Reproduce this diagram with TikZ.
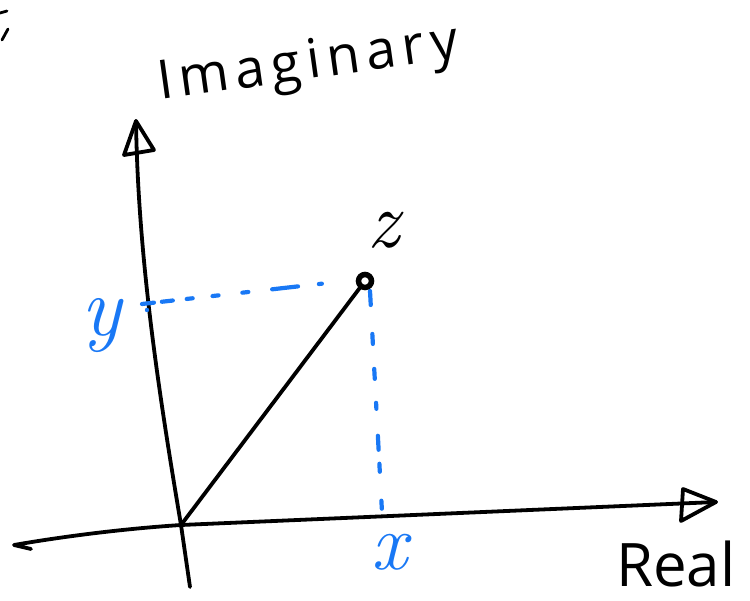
\documentclass[tikz,border=0pt]{standalone}
\usepackage{fontspec}
\setmainfont{Open Sans}
\newfontfamily\handspaced[LetterSpace=12]{Open Sans}
\newfontfamily\lmroman{Latin Modern Roman}
\definecolor{penblue}{RGB}{25,120,245}
\begin{document}
\begin{tikzpicture}[x=1pt,y=-1pt,
  ax/.style={line width=3.8pt,line cap=round,line join=round},
  bl/.style={penblue,line width=4.2pt,line cap=round},
  lab/.style={inner sep=0pt},
  letter/.style={lab, font=\lmroman\itshape\fontsize{#1}{#1}\selectfont}]
\useasboundingbox (0,0) rectangle (750,601);
% key points
\coordinate (O) at (181,525);
\coordinate (Ytip) at (136,121);
\coordinate (Xtip) at (716,502);
\coordinate (Yend) at (190,587);
\coordinate (Xend) at (14,545);
\coordinate (Z) at (365,281);
\coordinate (Yh) at (142,304);
\coordinate (Zh) at (328,283);
\coordinate (Zd) at (370,291);
\coordinate (Xd) at (382,512);
% imaginary axis
\draw[ax] (Yend) -- (O) .. controls (160,400) and (138,260) .. (Ytip);
\draw[ax] (Ytip) -- (124,155) -- (154,150) -- cycle;
% real axis
\draw[ax] (31,549) -- (Xend) .. controls (60,537) and (120,529) .. (O) -- (Xtip);
\draw[ax] (Xtip) -- (683,489) -- (681,521) -- cycle;
% blue dashed projections
\draw[bl, dash pattern=on 12pt off 8pt on 11pt off 14pt on 6pt off 20pt on 6pt off 24pt on 6pt off 24pt on 26pt off 21pt on 3pt off 100pt] (Yh) -- (Zh);
\fill[penblue] (147,310) circle (2.2);
\draw[bl, dash pattern=on 14pt off 29pt on 10pt off 25pt on 10pt off 24pt on 6pt off 27pt on 14pt off 14pt on 8pt off 29pt on 8pt off 100pt] (Zd) -- (Xd);
% vector to z
\draw[ax] (O) -- (Z);
\draw[line width=5.5pt, fill=white] (Z) circle (6.5);
% labels
\node[letter=80] (zl) at (383,230) {z};
\node[letter=84, text=penblue] (yl) at (101,326) {y};
\node[letter=80, text=penblue] (xl) at (389,552) {x};
\node[lab, anchor=base west, rotate=8, font=\handspaced\fontsize{54}{54}\selectfont] (im) at (160,100) {Imaginary};
\node[lab, anchor=base west, font=\fontsize{60}{60}\selectfont] (re) at (616,586) {Real};
% partial mark at top-left edge
\draw[ax, line width=2.8pt] (0,13) -- (7,11);
\draw[ax, line width=2.8pt] (8,29) -- (2,40);
\end{tikzpicture}
\end{document}
